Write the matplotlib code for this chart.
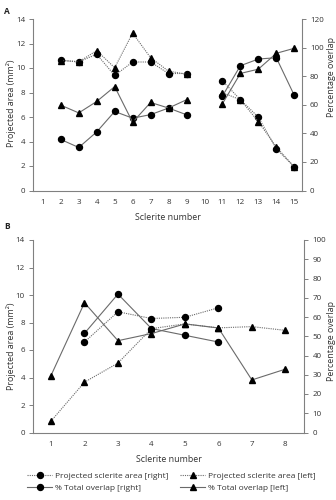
import numpy as np
import matplotlib
matplotlib.use("Agg")
import matplotlib.pyplot as plt
from matplotlib.lines import Line2D

plt.rcParams['font.family'] = ['Open Sans', 'DejaVu Sans']

nan = np.nan
# Panel A
sclerites_A = list(range(1, 16))
area_right_A = [nan, 10.65, 10.51, 11.12, 9.39, 10.49, 10.49, 9.55, 9.55, nan, 8.95, 7.41, 5.99, 3.40, 1.93]
area_left_A = [nan, 10.60, 10.50, 11.42, 10.02, 12.85, 10.84, 9.74, 9.50, nan, 7.99, 7.41, 5.62, 3.55, 1.93]
overlap_right_A = [nan, 35.7, 30.1, 41.0, 55.3, 50.6, 53.1, 57.7, 53.0, nan, 66.1, 87.3, 92.0, 92.9, 66.6]
overlap_left_A = [nan, 59.7, 54.3, 62.3, 72.7, 47.7, 61.6, 57.7, 63.5, nan, 60.7, 81.9, 84.9, 96.0, 99.5]

# Panel B
sclerites_B = list(range(1, 9))
area_right_B = [nan, 6.58, 8.78, 8.29, 8.38, 9.07, nan, nan]
area_left_B = [0.83, 3.66, 5.05, 7.55, 7.90, 7.61, 7.70, 7.43]
overlap_right_B = [nan, 51.5, 71.9, 54.0, 50.5, 47.0, nan, nan]
overlap_left_B = [29.6, 67.4, 47.7, 51.4, 56.4, 54.3, 27.3, 32.9]

labels = ["Projected sclerite area [right]", "Projected sclerite area [left]",
          "% Total overlap [right]", "% Total overlap [left]"]

LC = '#6a6a6a'
SC = '#808080'
TXT = '#333333'
FS = 5.8
LFS = 6.4
DOT = (0, (1, 1))
lw = 0.8
ms_c = 4.3
ms_t = 4.6

fig = plt.figure(figsize=(3.36, 5.0), dpi=100)


def style(ax, ax2, xticks, ylim, yticks, y2lim, y2ticks, xlim, lpos, rpos):
    ax.set_xlim(*xlim)
    ax.set_ylim(*ylim)
    ax.set_yticks(yticks)
    ax.set_xticks(xticks)
    ax2.set_ylim(*y2lim)
    ax2.set_yticks(y2ticks)
    for a in (ax, ax2):
        for s in a.spines.values():
            s.set_color(SC)
            s.set_linewidth(0.8)
        a.spines['top'].set_visible(False)
    ax.spines['right'].set_visible(False)
    ax2.spines['left'].set_visible(False)
    ax2.spines['bottom'].set_visible(False)
    ax.tick_params(axis='y', direction='out', length=3, width=0.7, color=SC,
                   labelsize=FS, labelcolor=TXT, pad=3)
    ax.tick_params(axis='x', length=0, labelsize=FS, labelcolor=TXT, pad=6)
    ax2.tick_params(axis='y', direction='out', length=3, width=0.7, color=SC,
                    labelsize=FS, labelcolor=TXT, pad=3)
    ax.set_xlabel("Sclerite number", fontsize=LFS, color=TXT, labelpad=5)
    ax.set_ylabel("Projected area (mm²)", fontsize=LFS, color=TXT)
    ax2.set_ylabel("Percentage overlap", fontsize=LFS, color=TXT)
    ax.yaxis.set_label_coords(*lpos)
    ax2.yaxis.set_label_coords(*rpos)


def draw(ax, ax2, x, ar, al, orr, ol):
    ax.plot(x, ar, linestyle=DOT, color=LC, lw=lw, marker='o', ms=ms_c,
            mfc='black', mec='black', zorder=3)
    ax.plot(x, al, linestyle=DOT, color=LC, lw=lw, marker='^', ms=ms_t,
            mfc='black', mec='black', zorder=3)
    ax2.plot(x, orr, linestyle='-', color=LC, lw=lw, marker='o', ms=ms_c,
             mfc='black', mec='black', zorder=3)
    ax2.plot(x, ol, linestyle='-', color=LC, lw=lw, marker='^', ms=ms_t,
             mfc='black', mec='black', zorder=3)


# Panel A
axA = fig.add_axes([0.0997, 0.619, 0.798, 0.343])
axA2 = axA.twinx()
draw(axA, axA2, sclerites_A, area_right_A, area_left_A, overlap_right_A, overlap_left_A)
style(axA, axA2, sclerites_A, (0, 14), range(0, 15, 2), (0, 120), range(0, 121, 20), (0.48, 15.41),
      (-0.066, 0.51), (1.095, 0.66))

# Panel B
axB = fig.add_axes([0.099, 0.135, 0.806, 0.385])
axB2 = axB.twinx()
draw(axB, axB2, sclerites_B, area_right_B, area_left_B, overlap_right_B, overlap_left_B)
style(axB, axB2, sclerites_B, (0, 14), range(0, 15, 2), (0, 100), range(0, 101, 10), (0.47, 8.56),
      (-0.065, 0.45), (1.083, 0.475))

fig.text(0.012, 0.985, "A", fontsize=6, fontweight='bold', va='top', ha='left', color='#222222')
fig.text(0.012, 0.556, "B", fontsize=6, fontweight='bold', va='top', ha='left', color='#222222')

handles = [
    Line2D([], [], linestyle=DOT, color=LC, lw=lw, marker='o', ms=ms_c, mfc='black', mec='black'),
    Line2D([], [], linestyle=DOT, color=LC, lw=lw, marker='^', ms=ms_t, mfc='black', mec='black'),
    Line2D([], [], linestyle='-', color=LC, lw=lw, marker='o', ms=ms_c, mfc='black', mec='black'),
    Line2D([], [], linestyle='-', color=LC, lw=lw, marker='^', ms=ms_t, mfc='black', mec='black'),
]
order = [0, 2, 1, 3]
fig.legend([handles[i] for i in order], [labels[i] for i in order],
           loc='center', bbox_to_anchor=(0.51, 0.036), ncol=2, frameon=False,
           fontsize=6.0, handlelength=3.0, handletextpad=0.35, columnspacing=1.4,
           labelspacing=0.55, labelcolor=TXT)

fig.savefig("out.png", dpi=100)
